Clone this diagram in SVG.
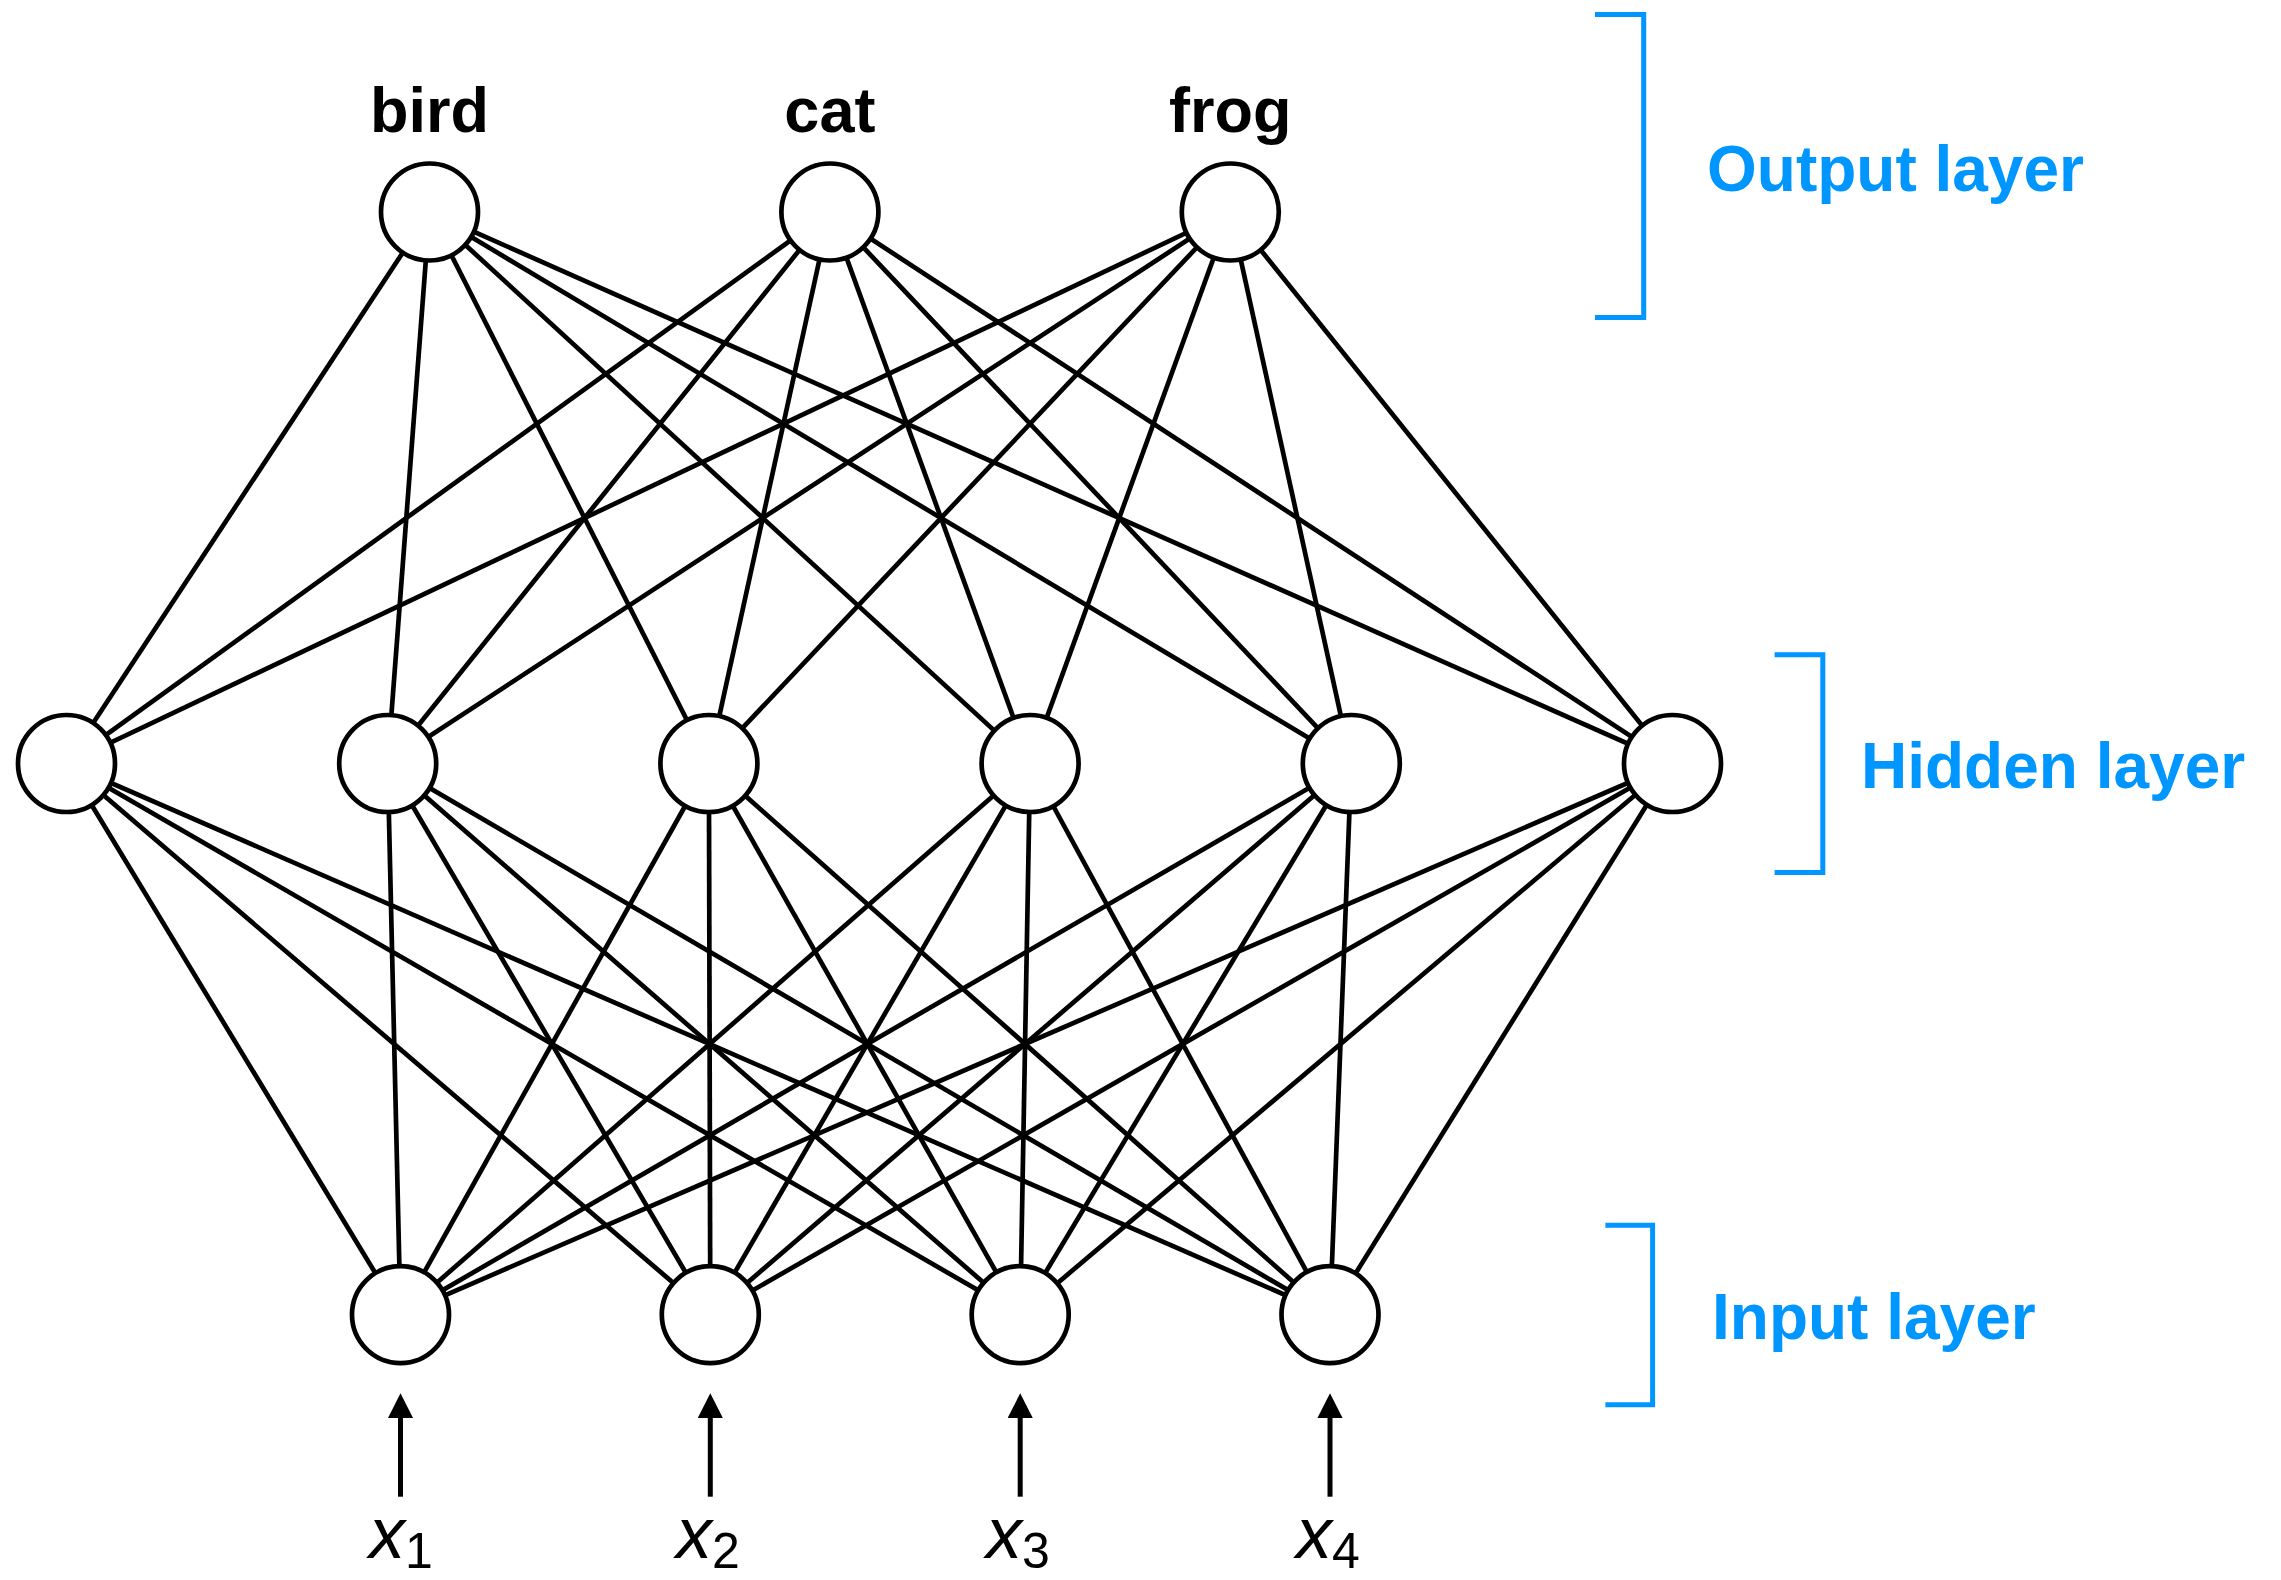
<svg xmlns="http://www.w3.org/2000/svg" width="2281" height="1580" viewBox="0 0 2281 1580">
<style>
.edge{stroke:#000;stroke-width:4.7;fill:none}
.node{fill:#fff;stroke:#000;stroke-width:4.7}
.lbl{font-family:"Liberation Sans",Arial,sans-serif;font-weight:bold;font-size:63px;fill:#000;text-anchor:middle}
.layer{font-family:"Liberation Sans",Arial,sans-serif;font-weight:bold;font-size:64px;fill:#0096ff}
.brk{stroke:#0096ff;stroke-width:5;fill:none}
.inp{font-family:"Liberation Sans",Arial,sans-serif;font-style:italic;font-size:72px;fill:#000;text-anchor:middle}
.sub{font-style:normal;font-size:50px}
.arr{stroke:#000;stroke-width:5;fill:none}
</style>
<defs>
<marker id="ah" markerUnits="userSpaceOnUse" markerWidth="26" markerHeight="26" refX="3.3" refY="12.7" orient="auto">
<path d="M0,0 L25,12.7 L0,25.4 Z" fill="#000"/>
</marker>
</defs>
<rect width="2281" height="1580" fill="#fff"/>
<g id="connectors">
<line class="edge" x1="429.5" y1="212" x2="66.5" y2="763.5"/>
<line class="edge" x1="429.5" y1="212" x2="387.7" y2="763.5"/>
<line class="edge" x1="429.5" y1="212" x2="708.9" y2="763.5"/>
<line class="edge" x1="429.5" y1="212" x2="1030.1" y2="763.5"/>
<line class="edge" x1="429.5" y1="212" x2="1351.3" y2="763.5"/>
<line class="edge" x1="429.5" y1="212" x2="1672.5" y2="763.5"/>
<line class="edge" x1="829.9" y1="212" x2="66.5" y2="763.5"/>
<line class="edge" x1="829.9" y1="212" x2="387.7" y2="763.5"/>
<line class="edge" x1="829.9" y1="212" x2="708.9" y2="763.5"/>
<line class="edge" x1="829.9" y1="212" x2="1030.1" y2="763.5"/>
<line class="edge" x1="829.9" y1="212" x2="1351.3" y2="763.5"/>
<line class="edge" x1="829.9" y1="212" x2="1672.5" y2="763.5"/>
<line class="edge" x1="1230.3" y1="212" x2="66.5" y2="763.5"/>
<line class="edge" x1="1230.3" y1="212" x2="387.7" y2="763.5"/>
<line class="edge" x1="1230.3" y1="212" x2="708.9" y2="763.5"/>
<line class="edge" x1="1230.3" y1="212" x2="1030.1" y2="763.5"/>
<line class="edge" x1="1230.3" y1="212" x2="1351.3" y2="763.5"/>
<line class="edge" x1="1230.3" y1="212" x2="1672.5" y2="763.5"/>
<line class="edge" x1="66.5" y1="763.5" x2="400.5" y2="1314.6"/>
<line class="edge" x1="66.5" y1="763.5" x2="710.3" y2="1314.6"/>
<line class="edge" x1="66.5" y1="763.5" x2="1020.2" y2="1314.6"/>
<line class="edge" x1="66.5" y1="763.5" x2="1330" y2="1314.6"/>
<line class="edge" x1="387.7" y1="763.5" x2="400.5" y2="1314.6"/>
<line class="edge" x1="387.7" y1="763.5" x2="710.3" y2="1314.6"/>
<line class="edge" x1="387.7" y1="763.5" x2="1020.2" y2="1314.6"/>
<line class="edge" x1="387.7" y1="763.5" x2="1330" y2="1314.6"/>
<line class="edge" x1="708.9" y1="763.5" x2="400.5" y2="1314.6"/>
<line class="edge" x1="708.9" y1="763.5" x2="710.3" y2="1314.6"/>
<line class="edge" x1="708.9" y1="763.5" x2="1020.2" y2="1314.6"/>
<line class="edge" x1="708.9" y1="763.5" x2="1330" y2="1314.6"/>
<line class="edge" x1="1030.1" y1="763.5" x2="400.5" y2="1314.6"/>
<line class="edge" x1="1030.1" y1="763.5" x2="710.3" y2="1314.6"/>
<line class="edge" x1="1030.1" y1="763.5" x2="1020.2" y2="1314.6"/>
<line class="edge" x1="1030.1" y1="763.5" x2="1330" y2="1314.6"/>
<line class="edge" x1="1351.3" y1="763.5" x2="400.5" y2="1314.6"/>
<line class="edge" x1="1351.3" y1="763.5" x2="710.3" y2="1314.6"/>
<line class="edge" x1="1351.3" y1="763.5" x2="1020.2" y2="1314.6"/>
<line class="edge" x1="1351.3" y1="763.5" x2="1330" y2="1314.6"/>
<line class="edge" x1="1672.5" y1="763.5" x2="400.5" y2="1314.6"/>
<line class="edge" x1="1672.5" y1="763.5" x2="710.3" y2="1314.6"/>
<line class="edge" x1="1672.5" y1="763.5" x2="1020.2" y2="1314.6"/>
<line class="edge" x1="1672.5" y1="763.5" x2="1330" y2="1314.6"/>
<line class="arr" x1="400.5" y1="1496.7" x2="400.5" y2="1415" marker-end="url(#ah)"/>
<line class="arr" x1="710.3" y1="1496.7" x2="710.3" y2="1415" marker-end="url(#ah)"/>
<line class="arr" x1="1020.2" y1="1496.7" x2="1020.2" y2="1415" marker-end="url(#ah)"/>
<line class="arr" x1="1330" y1="1496.7" x2="1330" y2="1415" marker-end="url(#ah)"/>
</g>
<g id="out-bird"><circle class="node" cx="429.5" cy="212" r="48.5"/><text class="lbl" x="429.5" y="131.7">bird</text></g>
<g id="out-cat"><circle class="node" cx="829.9" cy="212" r="48.5"/><text class="lbl" x="829.9" y="131.7">cat</text></g>
<g id="out-frog"><circle class="node" cx="1230.3" cy="212" r="48.5"/><text class="lbl" x="1230.3" y="131.7">frog</text></g>
<g id="hidden-1"><circle class="node" cx="66.5" cy="763.5" r="48.5"/></g>
<g id="hidden-2"><circle class="node" cx="387.7" cy="763.5" r="48.5"/></g>
<g id="hidden-3"><circle class="node" cx="708.9" cy="763.5" r="48.5"/></g>
<g id="hidden-4"><circle class="node" cx="1030.1" cy="763.5" r="48.5"/></g>
<g id="hidden-5"><circle class="node" cx="1351.3" cy="763.5" r="48.5"/></g>
<g id="hidden-6"><circle class="node" cx="1672.5" cy="763.5" r="48.5"/></g>
<g id="input-1"><circle class="node" cx="400.5" cy="1314.6" r="48.5"/><text class="inp" x="401" y="1558">x<tspan class="sub" dy="10">1</tspan></text></g>
<g id="input-2"><circle class="node" cx="710.3" cy="1314.6" r="48.5"/><text class="inp" x="708" y="1558">x<tspan class="sub" dy="10">2</tspan></text></g>
<g id="input-3"><circle class="node" cx="1020.2" cy="1314.6" r="48.5"/><text class="inp" x="1018" y="1558">x<tspan class="sub" dy="10">3</tspan></text></g>
<g id="input-4"><circle class="node" cx="1330" cy="1314.6" r="48.5"/><text class="inp" x="1328" y="1558">x<tspan class="sub" dy="10">4</tspan></text></g>
<g id="output-layer"><path class="brk" d="M1595,14.5 H1643.7 V317.5 H1595"/><text class="layer" x="1707" y="190.7">Output layer</text></g>
<g id="hidden-layer"><path class="brk" d="M1774.6,654.7 H1822.8 V872.5 H1774.6"/><text class="layer" x="1861" y="787.7">Hidden layer</text></g>
<g id="input-layer"><path class="brk" d="M1605.4,1225.2 H1652.6 V1404.8 H1605.4"/><text class="layer" x="1712" y="1339">Input layer</text></g>
</svg>
